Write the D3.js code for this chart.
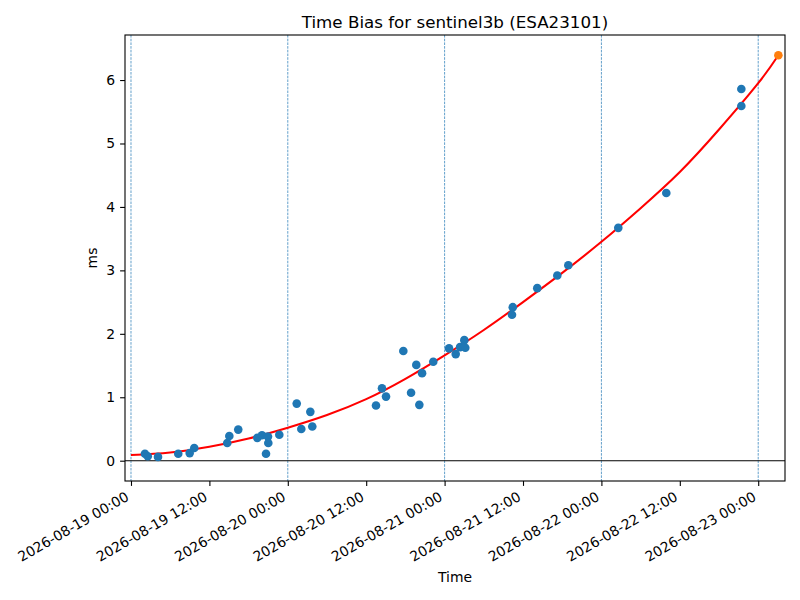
<!DOCTYPE html>
<html>
<head>
<meta charset="utf-8">
<script src="https://cdn.jsdelivr.net/npm/d3@7/dist/d3.min.js"></script>
<style>
  html, body { margin: 0; padding: 0; background: #fff; }
  text { font-family: "DejaVu Sans", sans-serif; fill: #000; }
</style>
</head>
<body>
<svg id="chart" width="800" height="600"></svg>
<script>
// ---- data ----
const obsTimes = [
  "2026-08-19 02:08", "2026-08-19 02:34", "2026-08-19 04:08", "2026-08-19 07:14",
  "2026-08-19 08:59", "2026-08-19 09:41", "2026-08-19 14:44", "2026-08-19 15:03",
  "2026-08-19 16:25", "2026-08-19 19:20", "2026-08-19 20:03", "2026-08-19 20:58",
  "2026-08-19 21:01", "2026-08-19 20:40", "2026-08-19 22:42", "2026-08-20 01:22",
  "2026-08-20 02:04", "2026-08-20 03:27", "2026-08-20 03:45", "2026-08-20 13:30",
  "2026-08-20 14:25", "2026-08-20 15:02", "2026-08-20 17:41", "2026-08-20 18:52",
  "2026-08-20 19:40", "2026-08-20 20:08", "2026-08-20 20:33", "2026-08-20 22:16",
  "2026-08-21 00:41", "2026-08-21 01:42", "2026-08-21 02:22", "2026-08-21 03:01",
  "2026-08-21 03:10", "2026-08-21 10:19", "2026-08-21 10:26", "2026-08-21 14:11",
  "2026-08-21 17:15", "2026-08-21 18:56", "2026-08-22 02:35", "2026-08-22 09:56",
  "2026-08-22 21:25", "2026-08-22 21:25"
];
const obsValues = [
  0.11, 0.07, 0.06, 0.11,
  0.12, 0.20, 0.28, 0.39,
  0.49, 0.36, 0.40, 0.38,
  0.28, 0.11, 0.41, 0.90,
  0.50, 0.77, 0.54, 0.87,
  1.14, 1.01, 1.73, 1.07,
  1.51, 0.88, 1.38, 1.56,
  1.77, 1.68, 1.79, 1.90,
  1.78, 2.30, 2.42, 2.72,
  2.92, 3.08, 3.67, 4.22,
  5.86, 5.59
];
const predTime = ["2026-08-23 03:05"];
const predValue = [6.39];

const fitTimes = [
  "2026-08-19 00:00", "2026-08-19 06:00", "2026-08-19 12:00", "2026-08-19 18:00",
  "2026-08-20 00:00", "2026-08-20 06:00", "2026-08-20 12:00", "2026-08-20 18:00",
  "2026-08-21 00:00", "2026-08-21 06:00", "2026-08-21 12:00", "2026-08-21 18:00",
  "2026-08-22 00:00", "2026-08-22 06:00", "2026-08-22 12:00", "2026-08-22 18:00",
  "2026-08-23 00:00", "2026-08-23 03:05"
];
const fitValues = [
  0.09, 0.13, 0.22, 0.35,
  0.52, 0.72, 0.97, 1.29,
  1.66, 2.06, 2.50, 2.96,
  3.45, 3.98, 4.55, 5.22,
  5.95, 6.39
];

const dayLines = ["2026-08-19 00:00", "2026-08-20 00:00", "2026-08-21 00:00", "2026-08-22 00:00", "2026-08-23 00:00"];
const yTicks = [0, 1, 2, 3, 4, 5, 6];
const xDomain = ["2026-08-18 23:05", "2026-08-23 04:06"];
const yDomain = [-0.32, 6.71];

const titleText = "Time Bias for sentinel3b (ESA23101)";
const xLabel = "Time";
const yLabel = "ms";

// ---- drawing ----
const parse = d3.utcParse("%Y-%m-%d %H:%M");
const fmt = d3.utcFormat("%Y-%m-%d %H:%M");

const margin = { left: 125, right: 15, top: 35, bottom: 119 };
const W = 800, H = 600;
const iw = W - margin.left - margin.right;
const ih = H - margin.top - margin.bottom;

const svg = d3.select("#chart");
const g = svg.append("g").attr("transform", `translate(${margin.left},${margin.top})`);

const x = d3.scaleUtc().domain(xDomain.map(parse)).range([0, iw]);
const y = d3.scaleLinear().domain(yDomain).range([ih, 0]);

const defs = svg.append("defs");
defs.append("clipPath").attr("id", "clip").append("rect").attr("width", iw).attr("height", ih);

const plot = g.append("g").attr("clip-path", "url(#clip)");

// dashed day lines
plot.selectAll("line.day").data(dayLines.map(parse)).join("line")
  .attr("class", "day")
  .attr("x1", d => x(d)).attr("x2", d => x(d))
  .attr("y1", 0).attr("y2", ih)
  .attr("stroke", "#1f77b4").attr("stroke-width", 0.7)
  .attr("stroke-dasharray", "2.6,1.1");

// zero line
plot.append("line")
  .attr("x1", 0).attr("x2", iw)
  .attr("y1", y(0)).attr("y2", y(0))
  .attr("stroke", "#000").attr("stroke-width", 1.1);

// fit curve
const fitData = fitTimes.map((t, i) => ({ t: parse(t), v: fitValues[i] }));
plot.append("path")
  .datum(fitData)
  .attr("fill", "none")
  .attr("stroke", "#ff0000")
  .attr("stroke-width", 2.08)
  .attr("d", d3.line().x(d => x(d.t)).y(d => y(d.v)).curve(d3.curveNatural));

// observed points
const obs = obsTimes.map((t, i) => ({ t: parse(t), v: obsValues[i] }));
plot.selectAll("circle.obs").data(obs).join("circle")
  .attr("class", "obs")
  .attr("cx", d => x(d.t)).attr("cy", d => y(d.v))
  .attr("r", 4.3)
  .attr("fill", "#1f77b4");

// predicted point
const pred = predTime.map((t, i) => ({ t: parse(t), v: predValue[i] }));
plot.selectAll("circle.pred").data(pred).join("circle")
  .attr("class", "pred")
  .attr("cx", d => x(d.t)).attr("cy", d => y(d.v))
  .attr("r", 4.3)
  .attr("fill", "#ff7f0e");

// frame
g.append("rect").attr("width", iw).attr("height", ih)
  .attr("fill", "none").attr("stroke", "#000").attr("stroke-width", 1.1);

// x axis
const xTickVals = x.ticks(d3.utcHour.every(12));
const xAxis = d3.axisBottom(x).tickValues(xTickVals).tickSize(4.9).tickSizeOuter(0).tickPadding(0).tickFormat(fmt);
const xg = g.append("g").attr("transform", `translate(0,${ih})`).call(xAxis);
xg.select(".domain").remove();
xg.selectAll(".tick line").attr("stroke", "#000").attr("stroke-width", 1.1);
xg.selectAll(".tick text")
  .attr("font-size", "13.9px")
  .attr("font-family", "DejaVu Sans, sans-serif")
  .attr("fill", "#000")
  .attr("text-anchor", "end")
  .attr("dy", null)
  .attr("y", null)
  .attr("transform", "translate(-1.6,18.5) rotate(-30)");

// y axis
const yAxis = d3.axisLeft(y).tickValues(yTicks).tickSize(4.9).tickSizeOuter(0).tickPadding(4.9).tickFormat(d3.format("d"));
const yg = g.append("g").call(yAxis);
yg.select(".domain").remove();
yg.selectAll(".tick line").attr("stroke", "#000").attr("stroke-width", 1.1);
yg.selectAll(".tick text")
  .attr("font-size", "13.9px")
  .attr("font-family", "DejaVu Sans, sans-serif")
  .attr("fill", "#000");

// labels
svg.append("text")
  .attr("x", margin.left + iw / 2).attr("y", 27.5)
  .attr("text-anchor", "middle")
  .attr("font-size", "16.7px")
  .text(titleText);

svg.append("text")
  .attr("x", margin.left + iw / 2).attr("y", 582)
  .attr("text-anchor", "middle")
  .attr("font-size", "13.9px")
  .text(xLabel);

svg.append("text")
  .attr("transform", `translate(97,${margin.top + ih / 2}) rotate(-90)`)
  .attr("text-anchor", "middle")
  .attr("font-size", "13.9px")
  .text(yLabel);
</script>
</body>
</html>
